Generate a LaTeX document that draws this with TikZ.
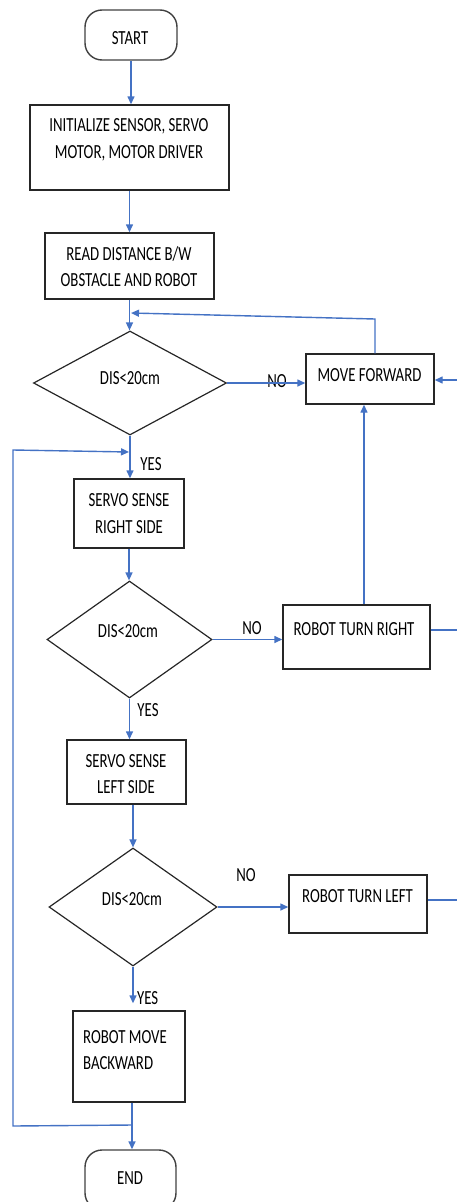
\documentclass[tikz,border=0pt]{standalone}
\usepackage{fontspec}
\setmainfont{Carlito}[FakeStretch=0.74]
\usetikzlibrary{arrows.meta,shapes.geometric,calc}
\definecolor{arrblue}{HTML}{4472C4}
\definecolor{boxline}{HTML}{262626}
\begin{document}
\begin{tikzpicture}[x=1pt,y=-1pt,
  every node/.style={font=\fontsize{20}{26.5}\selectfont, text=black},
  box/.style={draw=boxline,line width=1.4pt,inner sep=0pt},
  term/.style={box,draw=black!75,rounded corners=17pt},
  dec/.style={diamond,draw=boxline,line width=1.2pt,inner sep=0pt},
  txt/.style={inner sep=0pt,align=center},
  lbl/.style={inner sep=0pt},
  arr/.style={draw=arrblue,line width=1.4pt,-{Triangle[length=8pt,width=7pt]}},
  ln/.style={draw=arrblue,line width=1.4pt}]
\useasboundingbox (0,0) rectangle (457,1202);

% shapes
\node[term,minimum width=92pt,minimum height=50pt] (start) at (131,35) {};
\node[box,minimum width=199pt,minimum height=85pt] (init) at (129.5,147.5) {};
\node[box,minimum width=169pt,minimum height=66pt] (read) at (129.5,266) {};
\node[dec,minimum width=193pt,minimum height=104pt] (d1) at (130,383) {};
\node[box,minimum width=128pt,minimum height=50pt] (mf) at (370,379) {};
\node[box,minimum width=110pt,minimum height=69pt] (sr) at (129,513.5) {};
\node[dec,minimum width=165pt,minimum height=117pt] (d2) at (129.5,639.5) {};
\node[box,minimum width=147pt,minimum height=64pt] (rtr) at (356.5,637) {};
\node[box,minimum width=119pt,minimum height=64pt] (sl) at (126.5,772) {};
\node[dec,minimum width=168pt,minimum height=118pt] (d3) at (133,907) {};
\node[box,minimum width=138pt,minimum height=58pt] (rtl) at (358,904) {};
\node[box,minimum width=112pt,minimum height=91pt] (rmb) at (129,1056.5) {};
\node[term,minimum width=91pt,minimum height=60pt] (end) at (130.5,1180) {};

% texts
\node[txt] (tstart) at (130,38.5) {START};
\node[txt] (tinit) at (129,140) {INITIALIZE SENSOR, SERVO\\MOTOR, MOTOR DRIVER};
\node[txt] (tread) at (129,266.5) {READ DISTANCE B/W\\OBSTACLE AND ROBOT};
\node[txt] (td1) at (130,378) {DIS<20cm};
\node[txt] (tmf) at (369.5,375) {MOVE FORWARD};
\node[txt] (tsr) at (129,513.5) {SERVO SENSE\\RIGHT SIDE};
\node[txt] (td2) at (128,631) {DIS<20cm};
\node[txt] (trtr) at (354,629) {ROBOT TURN RIGHT};
\node[txt] (tsl) at (126,774) {SERVO SENSE\\LEFT SIDE};
\node[txt] (td3) at (132,899) {DIS<20cm};
\node[txt] (trtl) at (357.5,896) {ROBOT TURN LEFT};
\node[txt,align=left,anchor=west] (trmb) at (83,1050) {ROBOT MOVE\\BACKWARD};
\node[txt] (tend) at (130,1178) {END};

% labels
\node[lbl] (no1) at (277,381) {NO};
\node[lbl] (yes1) at (151,464) {YES};
\node[lbl] (no2) at (252,628) {NO};
\node[lbl] (yes2) at (148,710) {YES};
\node[lbl] (no3) at (246,875) {NO};
\node[lbl,anchor=west] (yes3) at (137,998) {YES};

% coordinates
\coordinate (mfup) at (375,319);
\coordinate (merge) at (131,313);
\coordinate (rin) at (457,380);
\coordinate (xr) at (364,0);
\coordinate (rout) at (457,630);
\coordinate (lout) at (457,900);
\coordinate (j) at (132,1125);
\coordinate (lb) at (13,1126);
\coordinate (lt) at (13,450);
\coordinate (lin) at (129,452);

% connectors
\draw[arr] (start.south) -- (start.south |- init.north);
\draw[arr] (init.south) -- (init.south |- read.north);
\draw[arr] (read.south) -- (read.south |- d1.north);
\draw[arr] (mf.north -| mfup) -- (mfup) -- (merge);
\draw[arr] (d1.east) -- (d1.east -| mf.west);
\draw[arr] (rin) -- (mf.east |- rin);
\draw[arr] (d1.south) -- (d1.south |- sr.north);
\draw[arr] (sr.south) -- (sr.south |- d2.north);
\draw[arr] (d2.east) -- (d2.east -| rtr.west);
\draw[arr] (rtr.north -| xr) -- (mf.south -| xr);
\draw[ln] (rtr.east |- rout) -- (rout);
\draw[arr] (d2.south) -- (d2.south |- sl.north);
\draw[arr] (d3.north |- sl.south) -- (d3.north);
\draw[arr] (d3.east) -- (d3.east -| rtl.west);
\draw[ln] (rtl.east |- lout) -- (lout);
\draw[arr] (d3.south) -- ([yshift=7pt]d3.south |- rmb.north);
\draw[arr] (rmb.south -| j) -- (end.north -| j);
\draw[arr] (j) -- (lb) -- (lt) -- (lin);
\end{tikzpicture}
\end{document}
